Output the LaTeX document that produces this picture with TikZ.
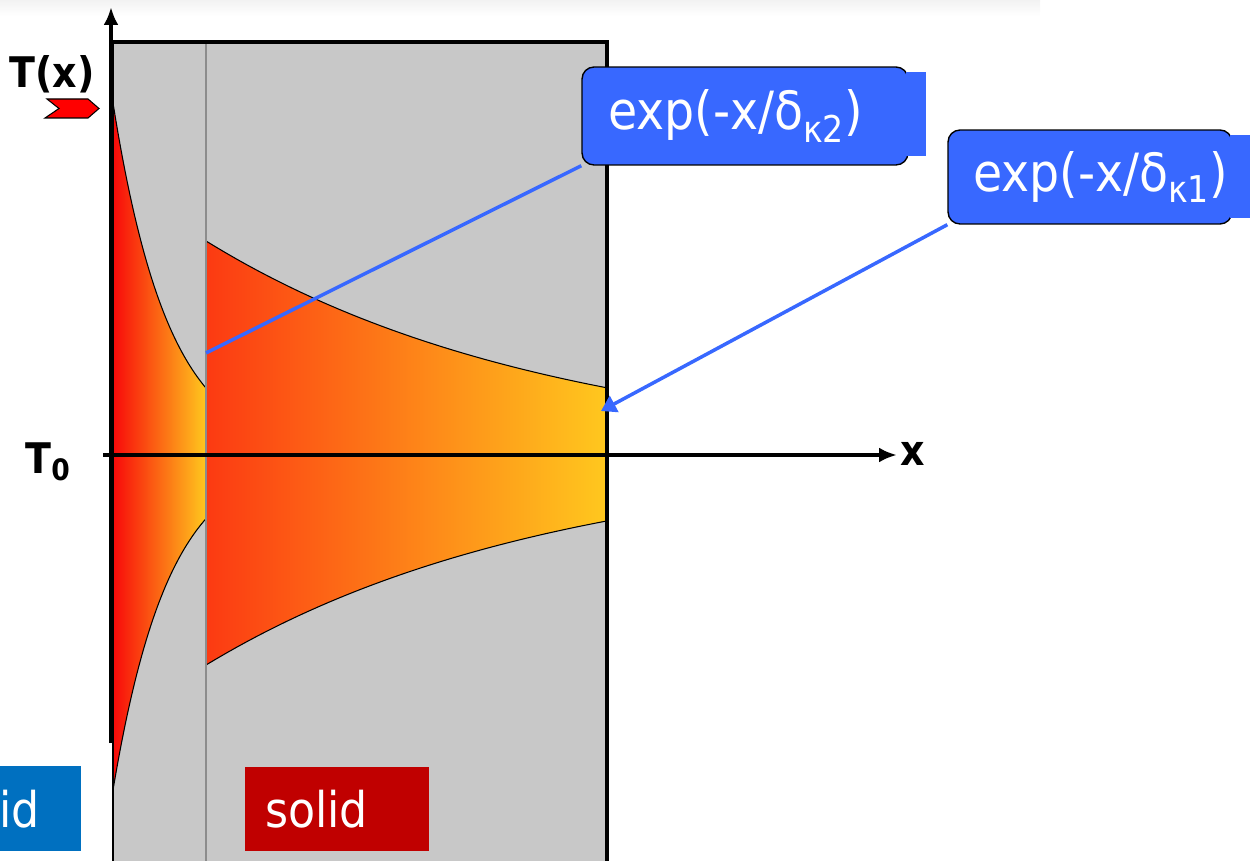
\documentclass[tikz,border=0pt]{standalone}
\usepackage{fontspec}
\setmainfont[FakeStretch=0.9]{DejaVu Sans}
\usetikzlibrary{arrows.meta, positioning}
\definecolor{slabgray}{HTML}{C8C8C8}
\definecolor{callblue}{HTML}{3868FF}
\definecolor{hotred}{HTML}{F80A0A}
\definecolor{warmred}{HTML}{FC3A12}
\definecolor{warmyellow}{HTML}{FFC81E}
\definecolor{liqblue}{HTML}{0070C0}
\definecolor{solidred}{HTML}{C00000}
\newcommand\calloutfont{\fontsize{30}{36}\selectfont}
\newcommand\tagfont{\fontsize{28}{34}\selectfont}
\tikzset{
    callout/.style={
        draw,
        fill=callblue,
        rounded corners=0.24cm,
        text=white,
        font=\calloutfont,
        align=left,
        line width=0.8pt
    },
    tag/.style={
        text=white,
        font=\tagfont,
        align=left,
        minimum height=1.7cm,
        inner ysep=0pt
    },
    axis/.style={-{Latex[length=0.36cm,width=0.3cm]}, line width=2.2pt},
    pointer/.style={callblue, line width=2pt},
    edge/.style={black, line width=0.6pt},
    lbl/.style={font=\bfseries\fontsize{24}{28}\selectfont}
}

\begin{document}
\begin{tikzpicture}[x=0.02cm, y=-0.02cm]
\useasboundingbox (0,0) rectangle (1250,861);
\clip (0,0) rectangle (1250,861);
\shade[top color=black!5, bottom color=white] (0,0) rectangle (1040,16);

% slab and temperature profiles
\fill[slabgray] (113,42) rectangle (607,880);
\shade[left color=hotred, right color=warmyellow]
    plot[domain=113:206, samples=40] (\x,{455-352*exp(-(\x-113)/56)})
    -- plot[domain=206:113, samples=40] (\x,{455+335*exp(-(\x-113)/56)}) -- cycle;
\shade[left color=warmred, right color=warmyellow]
    plot[domain=206:607, samples=40] (\x,{455-214*exp(-(\x-206)/346)})
    -- plot[domain=607:206, samples=40] (\x,{455+210*exp(-(\x-206)/346)}) -- cycle;
\draw[edge] plot[domain=113:206, samples=40] (\x,{455-352*exp(-(\x-113)/56)});
\draw[edge] plot[domain=113:206, samples=40] (\x,{455+335*exp(-(\x-113)/56)});
\draw[edge] plot[domain=206:607, samples=40] (\x,{455-214*exp(-(\x-206)/346)});
\draw[edge] plot[domain=206:607, samples=40] (\x,{455+210*exp(-(\x-206)/346)});
\draw[black!45, line width=0.6pt] (206,42) -- (206,880);
\draw[line width=0.8pt] (113,880) -- (113,42);
\draw[line width=1.8pt] (113,42) -- (607,42) -- (607,880);

% axes
\coordinate (ybot) at (111,743);
\coordinate (ytop) at (111,7);
\coordinate (xleft) at (103,455);
\coordinate (xright) at (897,455);
\draw[axis] (ybot) -- (ytop);
\draw[axis] (xleft) -- (xright);
\node[lbl] (tx) at (52,74) {T(x)};
\node[lbl] (t0) at (48,462) {T\textsubscript{0}};
\node[lbl] (xl) at (913,454) {x};
\filldraw[fill=red, line width=0.6pt] (45,118) -- (59,108.5) -- (47,99) -- (88,99) -- (99,108.5) -- (88,118) -- cycle;

% decay labels
\node[callout, minimum width=6.52cm, minimum height=1.96cm, text width=5.48cm, inner xsep=0.52cm] (k2) at (745,116) {\mbox{exp(-x/δ\textsubscript{κ2})}};
\fill[callblue] (906,72) rectangle (926,156);
\node[callout, minimum width=5.68cm, minimum height=1.88cm, text width=4.68cm, inner xsep=0.5cm] (k1) at (1090,177) {\mbox{exp(-x/δ\textsubscript{κ1})}};
\fill[callblue] (1230,135) rectangle (1252,218);
\coordinate (p2) at (206,353);
\coordinate (p1) at (601,411);
\draw[pointer] (k2.south west) -- (p2);
\draw[pointer, -{Triangle[length=0.3cm,width=0.36cm]}] (k1.south west) -- (p1);

% media
\node[tag, fill=liqblue, anchor=north east, inner xsep=0.82cm] (liq) at (81,766) {id};
\node[tag, fill=solidred, text width=2.88cm, inner xsep=0.4cm] (sol) at (337,809) {solid};
\end{tikzpicture}
\end{document}
